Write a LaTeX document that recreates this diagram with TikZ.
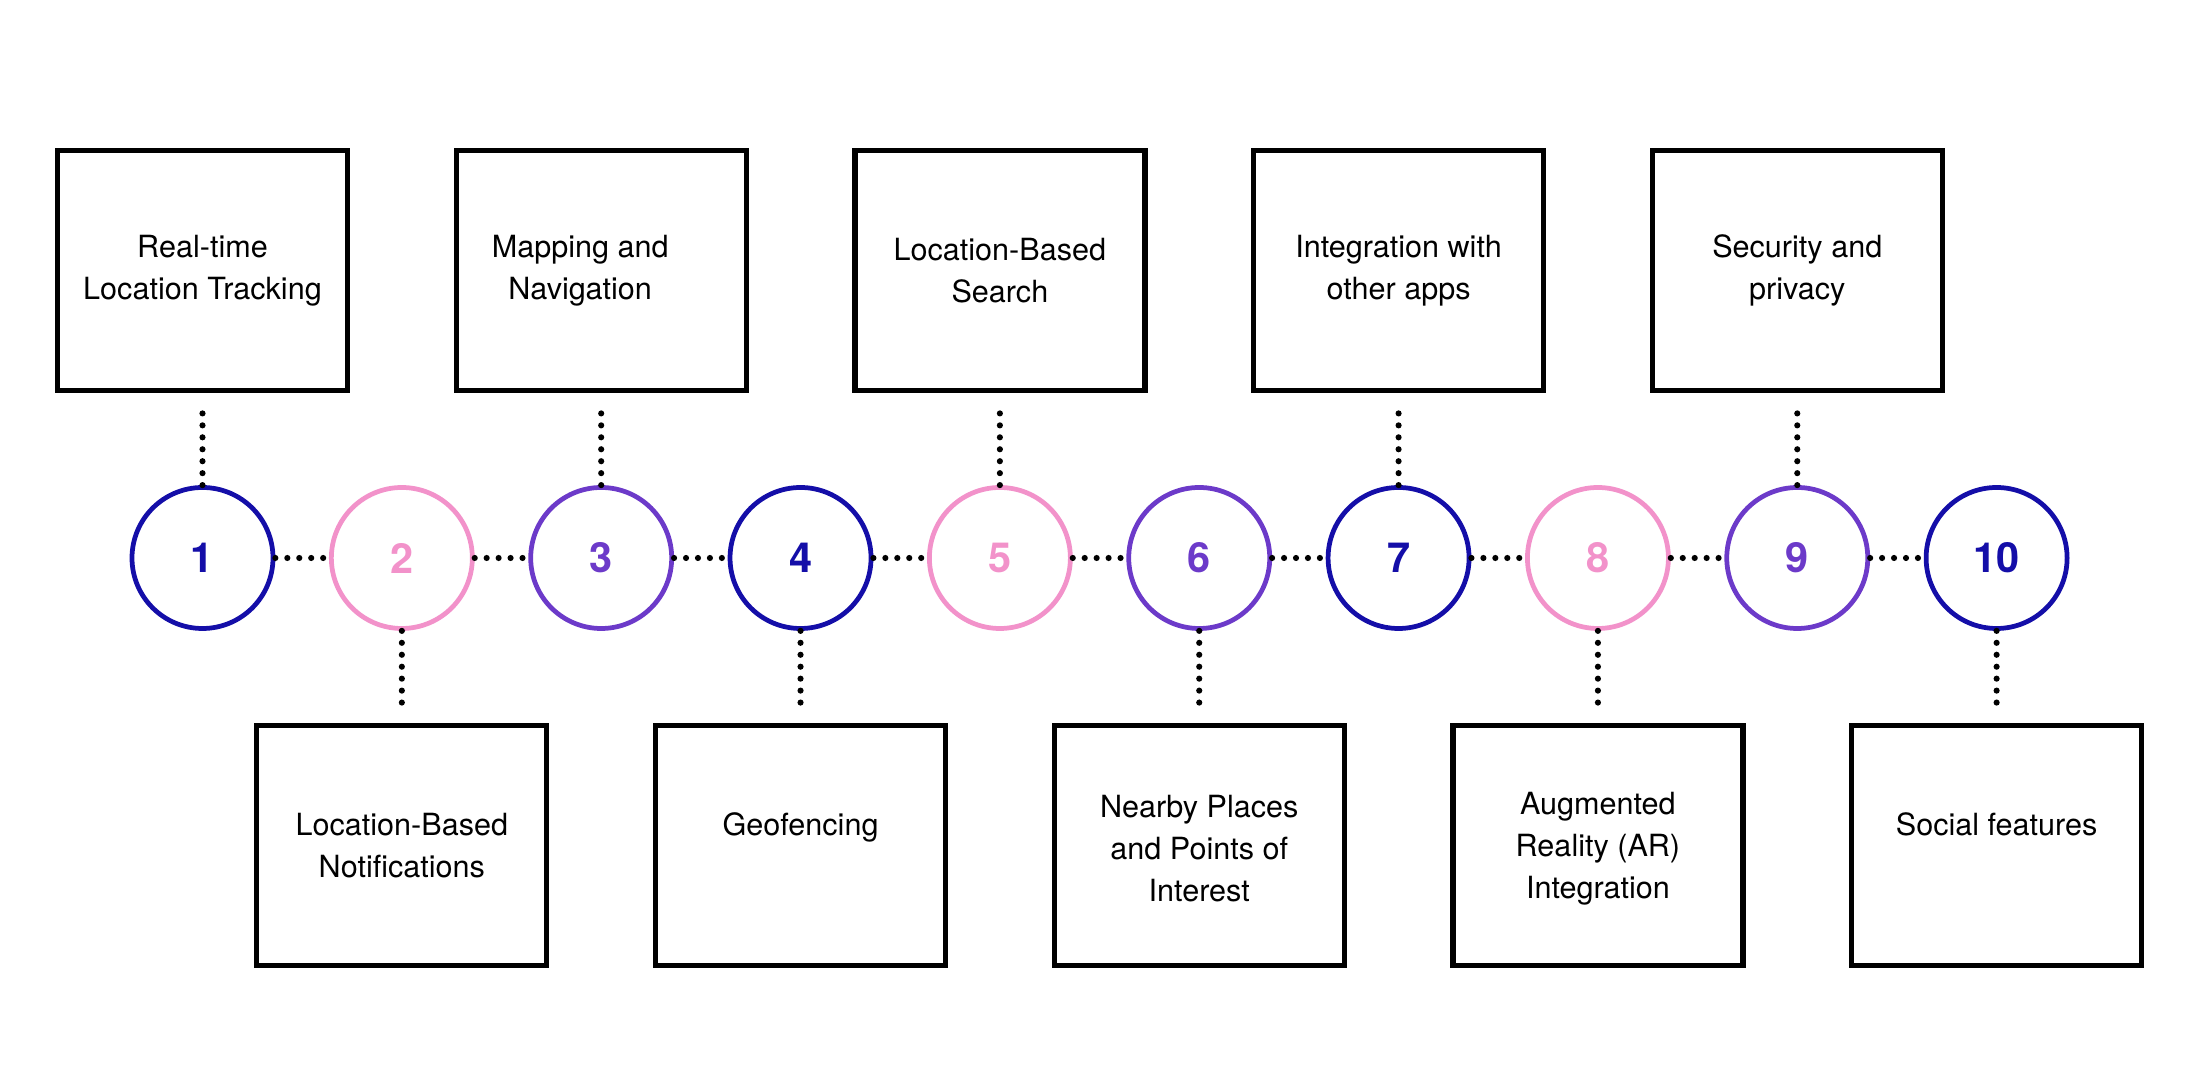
\documentclass[tikz,border=0pt]{standalone}
\usepackage{fontspec}
\setmainfont{TeX Gyre Heros}
\usetikzlibrary{positioning}

\definecolor{navyc}{RGB}{20,14,168}
\definecolor{pinkc}{RGB}{242,146,202}
\definecolor{purplec}{RGB}{108,58,201}

\begin{document}
\begin{tikzpicture}[
  step/.style={circle, draw=#1, text=#1, line width=1.35pt, minimum size=1.41cm,
    inner sep=0pt, font=\fontsize{11.8}{12}\selectfont\bfseries},
  feature/.style={draw=black, line width=1.5pt, minimum width=2.9cm, minimum height=2.4cm,
    align=center, inner sep=2pt, font=\fontsize{8.7}{12}\selectfont},
  dots/.style={line width=1.75pt, line cap=round, dash pattern=on 0pt off 3.4pt},
  node distance=0.92cm,
]
\useasboundingbox (0,0) rectangle (22,10.8);

% --- the row of numbered steps
\node[step=navyc] (c1) at (2.025,5.22) {1};
\node[step=pinkc,   right=0.536cm of c1] (c2) {2};
\node[step=purplec, right=0.536cm of c2] (c3) {3};
\node[step=navyc,   right=0.536cm of c3] (c4) {4};
\node[step=pinkc,   right=0.536cm of c4] (c5) {5};
\node[step=purplec, right=0.536cm of c5] (c6) {6};
\node[step=navyc,   right=0.536cm of c6] (c7) {7};
\node[step=pinkc,   right=0.536cm of c7] (c8) {8};
\node[step=purplec, right=0.536cm of c8] (c9) {9};
\node[step=navyc,   right=0.536cm of c9] (c10) {10};

% --- feature boxes, odd steps above, even steps below
\node[feature, above=of c1] (b1) {Real-time\\Location Tracking};
\node[feature, below=of c2] (b2) {Location-Based\\Notifications};
\node[feature, above=of c3] (b3) {\hspace*{-0.42cm}Mapping and\\\hspace*{-0.42cm}Navigation};
\node[feature, below=of c4] (b4) {Geofencing\\~};
\node[feature, above=of c5] (b5) {Location-Based\\Search};
\node[feature, below=of c6] (b6) {\\[-4pt]Nearby Places\\and Points of\\Interest};
\node[feature, above=of c7] (b7) {Integration with\\other apps};
\node[feature, below=of c8] (b8) {\\[-4pt]Augmented\\Reality (AR)\\Integration};
\node[feature, above=of c9] (b9) {Security and\\privacy};
\node[feature, below=of c10] (b10) {Social features\\~};

% --- dotted links along the row
\draw[dots] (c1.east) -- (c2.west);
\draw[dots] (c2.east) -- (c3.west);
\draw[dots] (c3.east) -- (c4.west);
\draw[dots] (c4.east) -- (c5.west);
\draw[dots] (c5.east) -- (c6.west);
\draw[dots] (c6.east) -- (c7.west);
\draw[dots] (c7.east) -- (c8.west);
\draw[dots] (c8.east) -- (c9.west);
\draw[dots] (c9.east) -- (c10.west);

% --- dotted links to the boxes
\draw[dots, shorten >=0.13cm] (c1.north) -- (b1.south);
\draw[dots, shorten >=0.13cm] (c2.south) -- (b2.north);
\draw[dots, shorten >=0.13cm] (c3.north) -- (b3.south);
\draw[dots, shorten >=0.13cm] (c4.south) -- (b4.north);
\draw[dots, shorten >=0.13cm] (c5.north) -- (b5.south);
\draw[dots, shorten >=0.13cm] (c6.south) -- (b6.north);
\draw[dots, shorten >=0.13cm] (c7.north) -- (b7.south);
\draw[dots, shorten >=0.13cm] (c8.south) -- (b8.north);
\draw[dots, shorten >=0.13cm] (c9.north) -- (b9.south);
\draw[dots, shorten >=0.13cm] (c10.south) -- (b10.north);

\end{tikzpicture}
\end{document}
